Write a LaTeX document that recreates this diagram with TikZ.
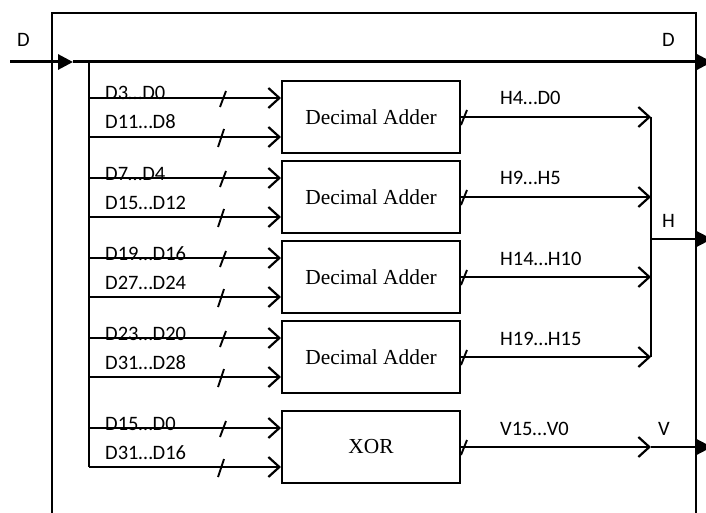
\documentclass[tikz,border=0pt]{standalone}
\usepackage{fontspec}
\setmainfont{Liberation Serif}
\newfontfamily\labfont{Carlito}
\usetikzlibrary{arrows.meta}
\begin{document}
\begin{tikzpicture}[x=1pt,y=-1pt,
  box/.style={draw,line width=2pt,minimum width=178pt,minimum height=72pt,anchor=north west,inner sep=0pt,font=\fontsize{21.4}{24}\selectfont},
  lab/.style={font=\labfont\fontsize{20.5}{24}\selectfont,anchor=base west,inner sep=0pt},
  sig/.style={line width=2.8pt},
  outl/.style={line width=2pt},
  chev/.style={-{Straight Barb[length=11pt,width=20pt,line width=2.2pt]}},
  big/.style={-{Triangle[length=15pt,width=15pt]}},
  slash/.style={line width=1.9pt},
  frame/.style={line width=1.8pt}
]
\useasboundingbox (0,0) rectangle (706,513);
% outer frame
\draw[frame] (52,513) -- (52,13) -- (696,13) -- (696,513);
% main D bus
\coordinate (din) at (10,62);
\coordinate (dtip) at (73,62);
\coordinate (dtap) at (89,62);
\coordinate (dout) at (712,62);
\coordinate (dbot) at (89,467);
\draw[line width=3pt,big] (din) -- (dtip);
\draw[line width=3pt,big] (dtip) -- (dout);
\draw[sig] (dtap) -- (dbot);
\node[lab] (dlab1) at (17,47) {D};
\node[lab] (dlab2) at (662,47) {D};
\coordinate (hbusx) at (651,0);
% blocks
\foreach \n/\t/\txt/\lt/\lb/\ho in {
  a1/80/Decimal Adder/D3…D0/D11…D8/H4…D0,
  a2/160/Decimal Adder/D7…D4/D15…D12/H9…H5,
  a3/240/Decimal Adder/D19…D16/D27…D24/H14…H10,
  a4/320/Decimal Adder/D23…D20/D31…D28/H19…H15,
  xr/410/XOR/D15…D0/D31…D16/V15…V0}{
  \node[box] (\n) at (281,\t) {\txt};
  \coordinate (\n in1) at (89,\t+18);
  \coordinate (\n in2) at (89,\t+57);
  \draw[sig,chev] (\n in1) -- (\n in1 -| \n.west);
  \draw[sig,chev] (\n in2) -- (\n in2 -| \n.west);
  \node[lab] (\n l1) at (105,\t+20) {\lt};
  \node[lab] (\n l2) at (105,\t+49) {\lb};
  \draw[slash] (220,\t+27) -- (226,\t+11);
  \draw[slash] (218,\t+67) -- (224,\t+49);
  \draw[outl,chev] (\n.east) -- (\n.east -| hbusx);
  \draw[slash] (461,\t+45) -- (467,\t+30);
  \node[lab] (\n lo) at (500,\t+25) {\ho};
}
% H bus
\coordinate (hmid) at (651,239);
\coordinate (hout) at (712,239);
\draw[sig] (a1.east -| hbusx) -- (a4.east -| hbusx);
\draw[outl,big] (hmid) -- (hout);
\node[lab] (hlab) at (662,227) {H};
% V output
\coordinate (vout) at (712,0);
\draw[outl,big] (xr.east -| hbusx) -- (xr.east -| vout);
\node[lab] (vlab) at (658,435) {V};
\end{tikzpicture}
\end{document}
